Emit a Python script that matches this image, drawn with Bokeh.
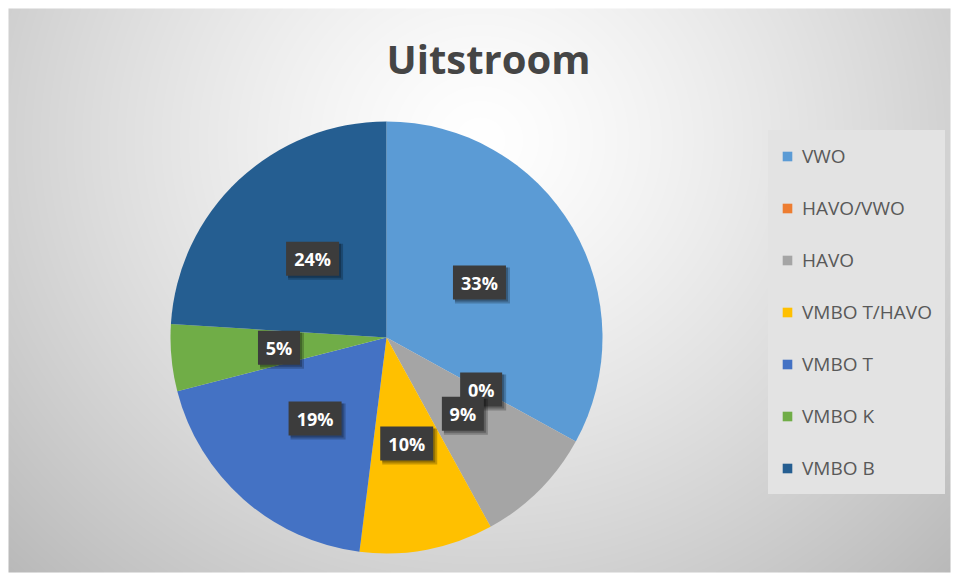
import numpy as np
from bokeh.plotting import figure
from bokeh.models import ColumnDataSource, Legend, LegendItem, Label, Range1d
from bokeh.embed import file_html
from bokeh.resources import INLINE
from bokeh.core.properties import value

# ---- data ----
title_text = "Uitstroom"
categories = ["VWO", "HAVO/VWO", "HAVO", "VMBO T/HAVO", "VMBO T", "VMBO K", "VMBO B"]
percentages = [33, 0, 9, 10, 19, 5, 24]
colors = ["#5B9BD5", "#ED7D31", "#A5A5A5", "#FFC000", "#4472C4", "#70AD47", "#255E91"]

W, H = 957, 578
p = figure(width=W, height=H, x_range=Range1d(0, W), y_range=Range1d(0, H),
           x_axis_type=None, y_axis_type=None, output_backend="svg",
           toolbar_location=None, min_border=0)
p.grid.visible = False
p.outline_line_color = None
p.background_fill_color = "white"
p.border_fill_color = "white"

# ---- background radial gradient (decoration) ----
bx0, bx1, by0, by1 = 8, 950, 8, 572
gw, gh = bx1 - bx0, by1 - by0
X, Y = np.meshgrid(np.arange(gw) + bx0 + 0.5, np.arange(gh) + by0 + 0.5)
d = np.sqrt(((X - 480) / 560) ** 2 + ((Y - 140) / 520) ** 2)
g = (255 - 56 * np.clip(d, 0, 1.3) ** 1.3).astype(np.uint8)
img = np.zeros((gh, gw), dtype=np.uint32)
view = img.view(dtype=np.uint8).reshape((gh, gw, 4))
view[..., 0] = g
view[..., 1] = g
view[..., 2] = g
view[..., 3] = 255
img = np.ascontiguousarray(img[::-1])
p.image_rgba(image=[img], x=bx0, y=H - by1, dw=gw, dh=gh)

# ---- pie ----
vals = np.array(percentages, dtype=float)
frac = vals / vals.sum()
cum_end = np.cumsum(frac)
cum_start = cum_end - frac
start = np.pi / 2 - cum_start * 2 * np.pi
end = np.pi / 2 - cum_end * 2 * np.pi
cx, cy, R = 386, H - 337, 216

full = dict(cat=categories, start=start, end=end, color=colors)
nz = [i for i, v in enumerate(percentages) if v > 0]
shown = {k: [v[i] for i in nz] for k, v in full.items()}

# visible slices (zero-size slices are skipped, they would draw as a full disc)
p.wedge(x=cx, y=cy, radius=R, start_angle="start", end_angle="end",
        direction="clock", fill_color="color", line_color=None,
        source=ColumnDataSource(shown))
# renderer that only feeds the legend (all categories, including 0%)
legend_src = ColumnDataSource(full)
legend_r = p.wedge(x=cx, y=cy, radius=R, start_angle="start", end_angle="end",
                   direction="clock", fill_color="color", line_color=None,
                   source=legend_src, visible=False)

# ---- data labels ----
mid = (cum_start + cum_end) / 2
ang = np.pi / 2 - mid * 2 * np.pi
lx = cx + 0.5 * R * np.cos(ang)
ly = cy + 0.5 * R * np.sin(ang)
for i in range(len(categories)):
    txt = f"{percentages[i]}%"
    bw = 11 * len(txt) + 20
    bh = 34
    p.rect(x=[lx[i] + 3], y=[ly[i] - 3], width=bw + 2, height=bh + 2,
           fill_color="black", fill_alpha=0.22, line_color=None)
    p.rect(x=[lx[i] + 2], y=[ly[i] - 2], width=bw, height=bh,
           fill_color="black", fill_alpha=0.25, line_color=None)
    p.rect(x=[lx[i]], y=[ly[i]], width=bw, height=bh,
           fill_color="#3c3c3c", line_color=None)
    p.text(x=[lx[i]], y=[ly[i]], text=[txt], text_align="center",
           text_baseline="middle", text_color="white",
           text_font=value("Open Sans"), text_font_style="bold",
           text_font_size="18px")

# ---- title ----
p.add_layout(Label(x=488, y=H - 58, text=title_text, text_align="center",
                   text_baseline="alphabetic", text_font="Open Sans",
                   text_font_style="bold", text_font_size="40px",
                   text_color="#454545"))

# ---- legend ----
items = [LegendItem(label=value(c), renderers=[legend_r], index=i)
         for i, c in enumerate(categories)]
legend = Legend(items=items, location=(768, 84), orientation="vertical",
                background_fill_color="#e3e3e3", background_fill_alpha=1.0,
                border_line_color="#e3e3e3", border_line_width=1,
                label_text_font="Open Sans", label_text_font_size="19px",
                label_text_color="#595959", glyph_width=12, glyph_height=12,
                label_height=26, label_standoff=9, label_width=130,
                spacing=26, padding=12, margin=0)
p.add_layout(legend, "center")

open("out.html", "w").write(file_html(p, INLINE))
